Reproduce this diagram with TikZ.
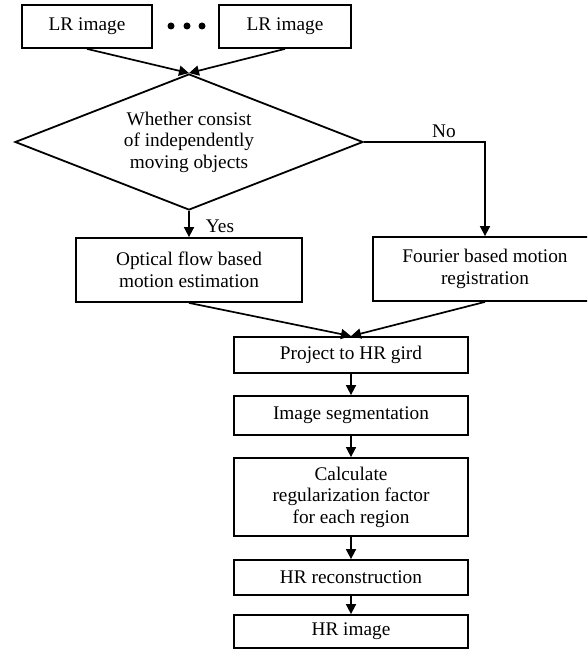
\documentclass[tikz,border=0pt]{standalone}
\usepackage{fontspec}
\setmainfont{Liberation Serif}
\usetikzlibrary{arrows.meta,shapes.geometric}
\newcommand{\figfont}{\fontsize{19.3}{21.5}\selectfont}
\begin{document}
\begin{tikzpicture}[x=1pt,y=-1pt,
  box/.style={draw, rectangle, line width=1.8pt, inner sep=0pt, align=center, font=\figfont},
  decision/.style={draw, diamond, aspect=2.56, line width=1.8pt, inner sep=0pt, align=center, font=\figfont,
    minimum width=348pt, minimum height=136pt},
  dotmark/.style={circle, fill=black, inner sep=0pt, minimum size=7pt},
  lbl/.style={inner sep=0pt, font=\figfont},
  arr/.style={line width=1.7pt, -{Triangle[length=10pt,width=10pt]}}]
\clip (0,0) rectangle (587,650);
\fill[white] (0,0) rectangle (587,650);
% top boxes
\node[box, minimum width=130pt, minimum height=43pt] (lr1) at (87,26.5) {LR image};
\node[box, minimum width=132pt, minimum height=43pt] (lr2) at (285,26.5) {LR image};
\node[dotmark] (d1) at (171,26) {};
\node[dotmark] (d2) at (187,26) {};
\node[dotmark] (d3) at (202,26) {};
% decision
\node[decision] (dia) at (189,142) {Whether consist\\of independently\\moving objects};
% branches
\node[box, minimum width=226pt, minimum height=64pt] (opt) at (189,270) {Optical flow based\\motion estimation};
\node[box, minimum width=224pt, minimum height=64pt] (four) at (485,269) {Fourier based motion\\registration};
% main column
\node[box, minimum width=234pt, minimum height=36pt] (proj) at (351,355) {Project to HR gird};
\node[box, minimum width=234pt, minimum height=39pt] (seg) at (351,415.5) {Image segmentation};
\node[box, minimum width=234pt, minimum height=78pt] (calc) at (351,497) {Calculate\\regularization factor\\for each region};
\node[box, minimum width=234pt, minimum height=35pt] (rec) at (351,577.5) {HR reconstruction};
\node[box, minimum width=234pt, minimum height=33pt] (hr) at (351,631.5) {HR image};
% labels
\node[lbl] (yes) at (220,226) {Yes};
\node[lbl] (no) at (444,131) {No};
% connectors
\draw[arr] (lr1.south) -- (dia.north);
\draw[arr] (lr2.south) -- (dia.north);
\draw[arr] (dia.south) -- (opt.north);
\draw[arr] (dia.east) -| (four.north);
\draw[arr] (opt.south) -- (proj.north);
\draw[arr] (four.south) -- (proj.north);
\draw[arr] (proj) -- (seg);
\draw[arr] (seg) -- (calc);
\draw[arr] (calc) -- (rec);
\draw[arr] (rec) -- (hr);
\end{tikzpicture}
\end{document}
